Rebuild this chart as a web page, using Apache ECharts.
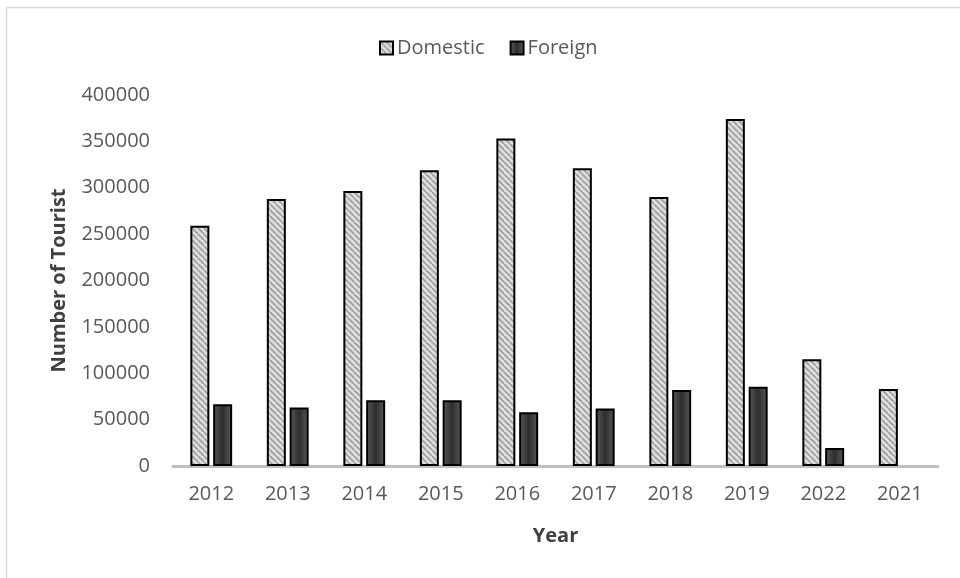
<!DOCTYPE html>
<html>
<head>
<meta charset="utf-8">
<title>Number of Tourist by Year</title>
<script src="https://cdn.jsdelivr.net/npm/echarts@6/dist/echarts.min.js"></script>
<style>
  html, body { margin: 0; padding: 0; background: #ffffff; }
  #chart { width: 960px; height: 578px; }
</style>
</head>
<body>
<div id="chart"></div>
<script>
// Tourist arrivals per year
const years = ['2012', '2013', '2014', '2015', '2016', '2017', '2018', '2019', '2022', '2021'];
const domestic = [259000, 288000, 296500, 319000, 353000, 321000, 290000, 374000, 115000, 83000];
const foreign = [66500, 63000, 71000, 71000, 58000, 62000, 82000, 85500, 19500, null];
const yTicks = [0, 50000, 100000, 150000, 200000, 250000, 300000, 350000, 400000];

// Diagonal stripe tile for the Domestic bars
function stripeTile() {
  const size = 6;
  const c = document.createElement('canvas');
  c.width = size; c.height = size;
  const ctx = c.getContext('2d');
  ctx.fillStyle = '#e2e2e2';
  ctx.fillRect(0, 0, size, size);
  ctx.strokeStyle = '#a5a5a5';
  ctx.lineWidth = 2;
  for (let k = -1; k <= 1; k++) {
    ctx.beginPath();
    ctx.moveTo(k * size, 0);
    ctx.lineTo(k * size + size, size);
    ctx.stroke();
  }
  return c;
}

const fontFamily = '"Open Sans", "Liberation Sans", sans-serif';
const stripes = stripeTile();
const chart = echarts.init(document.getElementById('chart'), null, { renderer: 'canvas' });

chart.setOption({
  animation: false,
  backgroundColor: '#ffffff',
  textStyle: { fontFamily: fontFamily },
  graphic: [{
    type: 'rect',
    left: 4, top: 5,
    shape: { width: 1000, height: 1000 },
    style: { fill: 'none', stroke: '#d9d9d9', lineWidth: 1.5 },
    silent: true,
    z: -1
  }],
  legend: {
    top: 33,
    left: 374,
    icon: 'rect',
    itemWidth: 13,
    itemHeight: 13,
    itemGap: 25,
    textStyle: { color: '#595959', fontSize: 20, fontFamily: fontFamily, padding: [0, 0, 0, -1] },
    data: ['Domestic', 'Foreign']
  },
  grid: { left: 173, right: 22, top: 95, bottom: 112 },
  xAxis: {
    type: 'category',
    data: years,
    name: 'Year',
    nameLocation: 'middle',
    nameGap: 60,
    nameTextStyle: { color: '#404040', fontSize: 20, fontWeight: 'bold', fontFamily: fontFamily },
    axisLine: { lineStyle: { color: '#bfbfbf', width: 3 } },
    axisTick: { show: false },
    axisLabel: { color: '#595959', fontSize: 20, margin: 18, fontFamily: fontFamily }
  },
  yAxis: {
    type: 'value',
    min: yTicks[0],
    max: yTicks[yTicks.length - 1],
    interval: yTicks[1] - yTicks[0],
    name: 'Number of Tourist',
    nameLocation: 'middle',
    nameGap: 104,
    nameTextStyle: { color: '#404040', fontSize: 20, fontWeight: 'bold', fontFamily: fontFamily },
    axisLine: { show: false },
    axisTick: { show: false },
    splitLine: { show: false },
    axisLabel: {
      color: '#595959', fontSize: 20, margin: 23, fontFamily: fontFamily,
      formatter: (v) => String(v)
    }
  },
  series: [
    {
      name: 'Domestic',
      type: 'bar',
      data: domestic,
      barWidth: 19,
      barGap: '20%',
      itemStyle: {
        color: { image: stripes, repeat: 'repeat' },
        borderColor: '#000000',
        borderWidth: 2
      }
    },
    {
      name: 'Foreign',
      type: 'bar',
      data: foreign,
      barWidth: 19,
      itemStyle: {
        color: {
          type: 'linear', x: 0, y: 0, x2: 1, y2: 0,
          colorStops: [
            { offset: 0, color: '#5a5a5a' },
            { offset: 0.5, color: '#2e2e2e' },
            { offset: 1, color: '#5a5a5a' }
          ]
        },
        borderColor: '#000000',
        borderWidth: 2
      }
    }
  ]
});
</script>
</body>
</html>
